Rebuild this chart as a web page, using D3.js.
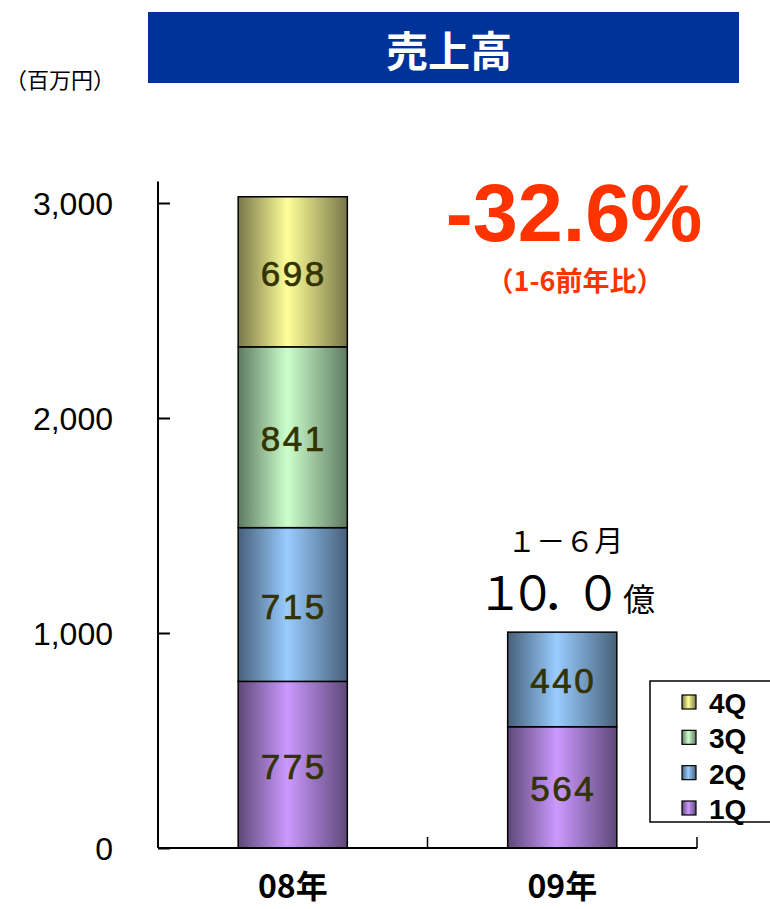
<!DOCTYPE html>
<html>
<head>
<meta charset="utf-8">
<script src="https://cdn.jsdelivr.net/npm/d3@7"></script>
<style>
	body { margin: 0; background: #fff; }
	svg { display: block; }
	.jp { font-family: "Noto Sans CJK JP", sans-serif; }
</style>
</head>
<body>
<div id="chart"></div>
<script>
// chart values (百万円)
var years = ["08年", "09年"];
var quarters = ["1Q", "2Q", "3Q", "4Q"];
var sales08 = [775, 715, 841, 698];
var sales09 = [564, 440];
var yTicks = [0, 1000, 2000, 3000];
// colours per quarter: light centre, dark edge
var lightColors = ["#cc99ff", "#99ccff", "#ccffcc", "#ffff99"];
var darkColors = ["#5e4878", "#47607a", "#5f7a62", "#77774a"];

var width = 770, height = 909;
var svg = d3.select("#chart").append("svg")
	.attr("width", width)
	.attr("height", height);

// gradients
var defs = svg.append("defs");
quarters.forEach(function (q, i) {
	var g = defs.append("linearGradient")
		.attr("id", "grad" + q)
		.attr("x1", "0%").attr("x2", "100%")
		.attr("y1", "0%").attr("y2", "0%");
	g.append("stop").attr("offset", "0%").attr("stop-color", darkColors[i]);
	g.append("stop").attr("offset", "45%").attr("stop-color", lightColors[i]);
	g.append("stop").attr("offset", "100%").attr("stop-color", darkColors[i]);
});

// title bar
svg.append("rect")
	.attr("x", 148).attr("y", 12)
	.attr("width", 591).attr("height", 71)
	.attr("fill", "#003399");
svg.append("text")
	.attr("class", "jp")
	.attr("x", 449).attr("y", 67)
	.attr("text-anchor", "middle")
	.attr("fill", "#fff")
	.attr("font-size", 42)
	.attr("font-weight", "bold")
	.text("売上高");
svg.append("text")
	.attr("class", "jp")
	.attr("x", 60).attr("y", 88)
	.attr("text-anchor", "middle")
	.attr("font-size", 22)
	.attr("fill", "#000")
	.text("（百万円）");

// scales
var x = d3.scaleBand().domain(years).range([158, 697]).paddingInner(0).paddingOuter(0);
var y = d3.scaleLinear().domain([0, 3100]).range([848, 181.5]);
var barW = x.bandwidth() * 0.405;

// build stacked data
var rows = [];
[sales08, sales09].forEach(function (vals, yi) {
	var base = 0;
	vals.forEach(function (v, qi) {
		rows.push({ year: years[yi], q: quarters[qi], y0: base, y1: base + v, v: v });
		base += v;
	});
});

// bars
svg.selectAll("rect.bar").data(rows)
	.enter().append("rect")
	.attr("class", "bar")
	.attr("x", function (d) { return x(d.year) + x.bandwidth() / 2 - barW / 2; })
	.attr("y", function (d) { return y(d.y1); })
	.attr("width", barW)
	.attr("height", function (d) { return y(d.y0) - y(d.y1); })
	.attr("fill", function (d) { return "url(#grad" + d.q + ")"; })
	.attr("stroke", "#000")
	.attr("stroke-width", 1.5);

svg.selectAll("text.val").data(rows)
	.enter().append("text")
	.attr("class", "val")
	.attr("x", function (d) { return x(d.year) + x.bandwidth() / 2 + 1; })
	.attr("y", function (d) { return (y(d.y0) + y(d.y1)) / 2 + 14; })
	.attr("text-anchor", "middle")
	.attr("font-family", "Liberation Sans, Arial, sans-serif")
	.attr("font-size", 35)
	.attr("letter-spacing", 2.5)
	.attr("fill", "#333300")
	.attr("stroke", "#333300")
	.attr("stroke-width", 0.7)
	.text(function (d) { return d.v; });

// y axis, ticks inside
var yAxis = svg.append("g")
	.attr("transform", "translate(158,0)")
	.call(d3.axisLeft(y).tickValues(yTicks).tickSize(-12).tickPadding(45).tickFormat(d3.format(",")));
yAxis.select(".domain").attr("stroke", "#000").attr("stroke-width", 2).attr("d", "M0," + y(3100) + "V" + y(0));
yAxis.selectAll(".tick line").attr("stroke", "#000").attr("stroke-width", 2);
yAxis.selectAll(".tick text")
	.attr("font-family", "Liberation Sans, Arial, sans-serif")
	.attr("font-size", 32)
	.attr("fill", "#000")
	.attr("dy", "0.36em");

// x axis
var xAxis = svg.append("g")
	.attr("transform", "translate(0," + y(0) + ")")
	.call(d3.axisBottom(x).tickSize(0).tickPadding(27));
xAxis.select(".domain").attr("stroke", "#000").attr("stroke-width", 2).attr("d", "M158,0H697");
xAxis.selectAll(".tick text")
	.attr("class", "jp")
	.attr("font-size", 32)
	.attr("font-weight", "bold")
	.attr("fill", "#000");
// category boundary ticks pointing up
xAxis.selectAll("line.sep").data(years)
	.enter().append("line")
	.attr("class", "sep")
	.attr("x1", function (d) { return x(d) + x.bandwidth(); })
	.attr("x2", function (d) { return x(d) + x.bandwidth(); })
	.attr("y1", 0).attr("y2", -11)
	.attr("stroke", "#000").attr("stroke-width", 1.5);

// annotations
svg.append("text")
	.attr("x", 574).attr("y", 241)
	.attr("text-anchor", "middle")
	.attr("font-family", "Liberation Sans, Arial, sans-serif")
	.attr("font-weight", "bold")
	.attr("font-size", 81)
	.attr("fill", "#ff3300")
	.text("-32.6%");
svg.append("text")
	.attr("class", "jp")
	.attr("x", 575).attr("y", 291)
	.attr("text-anchor", "middle")
	.attr("font-weight", "bold")
	.attr("font-size", 27)
	.attr("fill", "#ff3300")
	.text("（1-6前年比）");

var cx09 = x("09年") + x.bandwidth() / 2;
svg.append("text")
	.attr("class", "jp")
	.attr("x", cx09 + 3).attr("y", 552)
	.attr("text-anchor", "middle")
	.attr("font-size", 29)
	.attr("fill", "#000")
	.text("１－６月");
svg.append("text")
	.attr("class", "jp")
	.attr("x", 477).attr("y", 610)
	.attr("font-size", 46)
	.attr("fill", "#000")
	.attr("textLength", 144)
	.attr("lengthAdjust", "spacing")
	.text("１０．０");
svg.append("text")
	.attr("class", "jp")
	.attr("x", 623).attr("y", 611)
	.attr("font-size", 32)
	.attr("fill", "#000")
	.text("億");

// legend
var legend = svg.append("g");
legend.append("rect")
	.attr("x", 650).attr("y", 681)
	.attr("width", 140).attr("height", 141)
	.attr("fill", "#fff")
	.attr("stroke", "#000")
	.attr("stroke-width", 1.5);
var legendOrder = quarters.slice().reverse();
var ly = d3.scalePoint().domain(legendOrder).range([702, 808]);
legend.selectAll("rect.sw").data(legendOrder)
	.enter().append("rect")
	.attr("class", "sw")
	.attr("x", 682)
	.attr("y", function (d) { return ly(d) - 7; })
	.attr("width", 14).attr("height", 14)
	.attr("fill", function (d) { return "url(#grad" + d + ")"; })
	.attr("stroke", "#000").attr("stroke-width", 1.2);
legend.selectAll("text.lg").data(legendOrder)
	.enter().append("text")
	.attr("class", "lg")
	.attr("x", 709)
	.attr("y", function (d) { return ly(d) + 11; })
	.attr("font-family", "Liberation Sans, Arial, sans-serif")
	.attr("font-weight", "bold")
	.attr("font-size", 28)
	.attr("fill", "#000")
	.text(function (d) { return d; });
</script>
</body>
</html>
